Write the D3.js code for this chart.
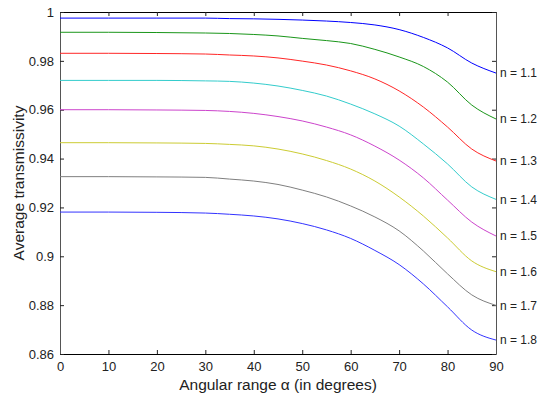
<!DOCTYPE html>
<html>
<head>
<meta charset="utf-8">
<script src="https://cdn.jsdelivr.net/npm/d3@7"></script>
<style>
  body { margin: 0; background: #fff; }
  svg { display: block; font-family: "Liberation Sans", Arial, sans-serif; }
</style>
</head>
<body>
<svg id="chart" width="539" height="399"></svg>
<script>
const angles = [0, 10, 20, 30, 35, 40, 45, 50, 55, 60, 65, 70, 75, 80, 85, 90];

const seriesNames = ["n = 1.1", "n = 1.2", "n = 1.3", "n = 1.4", "n = 1.5", "n = 1.6", "n = 1.7", "n = 1.8"];

const n11 = [0.9975, 0.9975, 0.9975, 0.9975, 0.9973, 0.9972, 0.9970, 0.9967, 0.9963, 0.9957, 0.9947, 0.9928, 0.9896, 0.9853, 0.9791, 0.9750];
const n12 = [0.9917, 0.9917, 0.9916, 0.9914, 0.9912, 0.9908, 0.9902, 0.9892, 0.9883, 0.9871, 0.9847, 0.9816, 0.9777, 0.9713, 0.9619, 0.9562];
const n13 = [0.9831, 0.9831, 0.9830, 0.9828, 0.9824, 0.9820, 0.9812, 0.9799, 0.9783, 0.9759, 0.9726, 0.9677, 0.9611, 0.9529, 0.9439, 0.9390];
const n14 = [0.9720, 0.9720, 0.9720, 0.9718, 0.9716, 0.9709, 0.9697, 0.9679, 0.9656, 0.9623, 0.9583, 0.9533, 0.9460, 0.9378, 0.9284, 0.9233];
const n15 = [0.9600, 0.9600, 0.9599, 0.9597, 0.9593, 0.9585, 0.9572, 0.9554, 0.9529, 0.9497, 0.9451, 0.9394, 0.9321, 0.9230, 0.9140, 0.9083];
const n16 = [0.9465, 0.9465, 0.9464, 0.9462, 0.9458, 0.9452, 0.9439, 0.9419, 0.9392, 0.9357, 0.9308, 0.9243, 0.9165, 0.9075, 0.8981, 0.8937];
const n17 = [0.9326, 0.9326, 0.9325, 0.9323, 0.9316, 0.9308, 0.9294, 0.9271, 0.9243, 0.9206, 0.9161, 0.9104, 0.9022, 0.8928, 0.8842, 0.8799];
const n18 = [0.9181, 0.9181, 0.9180, 0.9177, 0.9172, 0.9165, 0.9153, 0.9134, 0.9108, 0.9073, 0.9024, 0.8966, 0.8887, 0.8793, 0.8698, 0.8657];

const seriesValues = [n11, n12, n13, n14, n15, n16, n17, n18];
const seriesColors = ["#0000ff", "#1a961a", "#ff2626", "#33cccc", "#cc44cc", "#cccc33", "#7f7f7f", "#3333ff"];

const xTicks = [0, 10, 20, 30, 40, 50, 60, 70, 80, 90];
const yTicks = [0.86, 0.88, 0.9, 0.92, 0.94, 0.96, 0.98, 1];
const xTitle = "Angular range \u03b1 (in degrees)";
const yTitle = "Average transmissivity";

const svg = d3.select("#chart");
const margin = { top: 12, right: 43, bottom: 45, left: 60 };
const width = 539;
const height = 399;
const innerW = width - margin.left - margin.right;
const innerH = height - margin.top - margin.bottom;

const x = d3.scaleLinear().domain([0, 90]).range([margin.left, margin.left + innerW]);
const y = d3.scaleLinear().domain([0.86, 1]).range([margin.top + innerH, margin.top]);

const tickLen = 4;

// axes with inward ticks on all four sides
const bottomAxis = d3.axisBottom(x).tickValues(xTicks).tickSizeInner(-tickLen).tickSizeOuter(0).tickPadding(8).tickFormat(d3.format("d"));
const topAxis = d3.axisTop(x).tickValues(xTicks).tickSizeInner(-tickLen).tickSizeOuter(0).tickFormat("");
const leftAxis = d3.axisLeft(y).tickValues(yTicks).tickSizeInner(-tickLen).tickSizeOuter(0).tickPadding(6).tickFormat((d) => d3.format("")(+d.toFixed(2)));
const rightAxis = d3.axisRight(y).tickValues(yTicks).tickSizeInner(-tickLen).tickSizeOuter(0).tickFormat("");

function styleAxis(g, color) {
  g.select(".domain").attr("stroke", color).attr("stroke-width", 1);
  g.selectAll(".tick line").attr("stroke", "#222");
  g.selectAll(".tick text").attr("fill", "#222").style("font-size", "13px").style("font-family", "\"Liberation Sans\", Arial, sans-serif");
}

svg.append("g").attr("transform", `translate(0,${margin.top + innerH})`).call(bottomAxis).call((g) => styleAxis(g, "#000"));
svg.append("g").attr("transform", `translate(0,${margin.top})`).call(topAxis).call((g) => styleAxis(g, "#000"));
svg.append("g").attr("transform", `translate(${margin.left},0)`).call(leftAxis).call((g) => styleAxis(g, "#555"));
svg.append("g").attr("transform", `translate(${margin.left + innerW},0)`).call(rightAxis).call((g) => styleAxis(g, "#555"));

const line = d3.line()
  .x((d) => x(d[0]))
  .y((d) => y(d[1]))
  .curve(d3.curveMonotoneX);

const lines = svg.append("g").attr("class", "curves");

seriesValues.forEach((values, i) => {
  const points = angles.map((a, j) => [a, values[j]]);
  lines.append("path")
    .attr("d", line(points))
    .attr("fill", "none")
    .attr("stroke", seriesColors[i])
    .attr("stroke-width", 1);

  // labels sized to stay inside the window
  svg.append("text")
    .attr("x", x(90) + 4)
    .attr("y", y(values[values.length - 1]))
    .attr("dy", "0.35em")
    .attr("fill", "#222")
    .style("font-size", "12px")
    .text(seriesNames[i]);
});

svg.append("text")
  .attr("x", x(45))
  .attr("y", 390)
  .attr("text-anchor", "middle")
  .attr("fill", "#222")
  .style("font-size", "15.5px")
  .text(xTitle);

svg.append("text")
  .attr("transform", `translate(24,${y(0.93)}) rotate(-90)`)
  .attr("text-anchor", "middle")
  .attr("fill", "#222")
  .style("font-size", "15.5px")
  .text(yTitle);
</script>
</body>
</html>
